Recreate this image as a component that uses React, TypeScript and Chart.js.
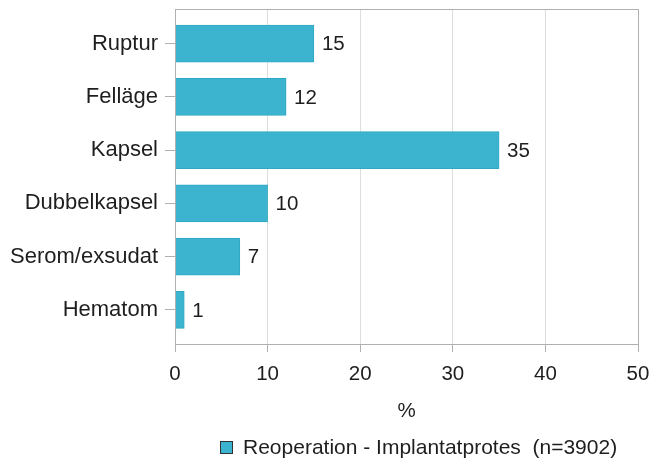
import React, { useEffect, useRef } from "react";
import { Chart, registerables } from "chart.js";

Chart.register(...registerables);

const categories = ["Ruptur", "Felläge", "Kapsel", "Dubbelkapsel", "Serom/exsudat", "Hematom"];
const values = [15, 12, 35, 10, 7, 1];
const seriesLabel = "Reoperation - Implantatprotes  (n=3902)";
const xTicks = [0, 10, 20, 30, 40, 50];
const axisTitle = "%";

const FONT = "'Liberation Sans', Arial, sans-serif";
const FS = 20.5;
const TEXT = "#1e1e1e";
const BAR = "#3cb4cf";

export default function App() {
  const ref = useRef<HTMLCanvasElement | null>(null);

  useEffect(() => {
    if (!ref.current) return;
    const labelPlugin = {
      id: "barLabels",
      afterDatasetsDraw(chart: any) {
        const ctx = chart.ctx;
        const meta = chart.getDatasetMeta(0);
        ctx.save();
        ctx.font = `${FS}px ${FONT}`;
        ctx.fillStyle = TEXT;
        ctx.textAlign = "left";
        ctx.textBaseline = "middle";
        meta.data.forEach((el: any, i: number) => {
          ctx.fillText(String(values[i]), el.x + 8, el.y + 1);
        });
        ctx.restore();
      },
    };
    const framePlugin = {
      id: "frame",
      afterDraw(chart: any) {
        const { ctx, chartArea } = chart;
        ctx.save();
        ctx.strokeStyle = "#b0b0b0";
        ctx.lineWidth = 1;
        ctx.strokeRect(
          Math.round(chartArea.left) + 0.5,
          Math.round(chartArea.top) + 0.5,
          Math.round(chartArea.right - chartArea.left),
          Math.round(chartArea.bottom - chartArea.top)
        );
        // legend
        const bx = 220.5, by = 441.5;
        ctx.fillStyle = BAR;
        ctx.fillRect(bx, by, 12, 12);
        ctx.strokeStyle = "#333333";
        ctx.strokeRect(bx, by, 12, 12);
        ctx.font = `21px ${FONT}`;
        ctx.fillStyle = TEXT;
        ctx.textAlign = "left";
        ctx.textBaseline = "middle";
        ctx.fillText(seriesLabel, 243, 448);
        ctx.restore();
      },
    };

    const chart = new Chart(ref.current, {
      type: "bar",
      data: {
        datasets: [
          {
            label: seriesLabel,
            data: values.map((v, i) => ({ x: v, y: i })),
            backgroundColor: BAR,
            borderColor: "#2fa8c3",
            borderWidth: 1,
            barThickness: 37,
          },
        ],
      },
      options: {
        indexAxis: "y",
        animation: false,
        responsive: false,
        maintainAspectRatio: false,
        layout: { padding: { top: 9, right: 12, bottom: 31, left: 0 } },
        scales: {
          x: {
            type: "linear",
            min: 0,
            max: 50,
            afterBuildTicks: (scale: any) => {
              scale.ticks = xTicks.map((v) => ({ value: v }));
            },
            afterFit: (scale: any) => {
              scale.height = 84;
              scale.paddingLeft = 0;
              scale.paddingRight = 0;
            },
            grid: {
              color: "#dddddd",
              tickColor: "#b0b0b0",
              tickLength: 8,
              drawOnChartArea: true,
            },
            border: { color: "#b0b0b0" },
            ticks: { font: { family: FONT, size: FS }, color: TEXT, padding: 10 },
            title: {
              display: true,
              text: axisTitle,
              font: { family: FONT, size: FS },
              color: TEXT,
              padding: { top: 0, bottom: 4 },
            },
          },
          y: {
            type: "linear",
            reverse: true,
            offset: false,
            min: -0.65,
            max: 5.64,
            afterBuildTicks: (scale: any) => {
              scale.ticks = categories.map((_, i) => ({ value: i }));
            },
            afterFit: (scale: any) => {
              scale.width = 175;
              scale.paddingTop = 0;
              scale.paddingBottom = 0;
            },
            grid: {
              offset: false,
              drawOnChartArea: false,
              tickColor: "#b0b0b0",
              tickLength: 10,
            },
            border: { color: "#b0b0b0" },
            ticks: {
              font: { family: FONT, size: 22 },
              color: TEXT,
              padding: 7,
              callback: (v: any) => categories[Number(v)] ?? "",
            },
          },
        },
        plugins: {
          legend: { display: false },
          tooltip: { enabled: false },
        },
      },
      plugins: [labelPlugin, framePlugin],
    });
    return () => chart.destroy();
  }, []);

  return (
    <div style={{ position: "absolute", left: 0, top: 0, width: 650, height: 459, background: "#fff" }}>
      <canvas ref={ref} width={650} height={459} style={{ width: 650, height: 459 }} />
    </div>
  );
}
